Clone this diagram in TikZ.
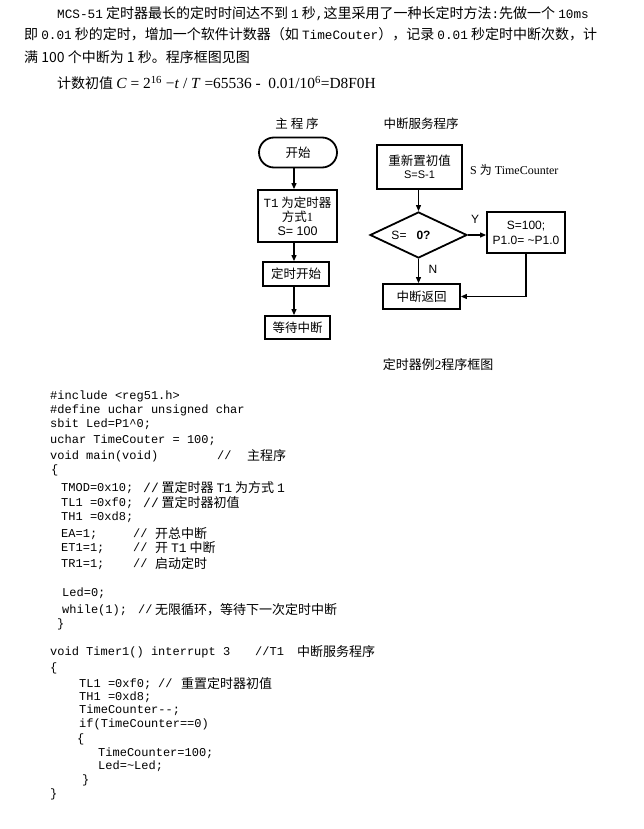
\documentclass[tikz,border=0pt]{standalone}
\usepackage{fontspec}
\setmainfont{Liberation Serif}
\setsansfont{Liberation Sans}
\setmonofont{Liberation Mono}
\newfontfamily\cjk{Noto Sans CJK SC}
\usetikzlibrary{arrows.meta,shapes.geometric}
\newcommand\pmono[1]{{\ttfamily\fontsize{12.7}{14}\selectfont #1}}
\newcommand\cmono[1]{{\ttfamily #1}}
\tikzset{
  txt/.style={inner sep=0pt, anchor=base west},
  para/.style={txt, font=\cjk\fontsize{14}{16}\selectfont},
  code/.style={txt, font=\ttfamily\fontsize{12}{14}\selectfont},
  ccn/.style={txt, font=\cjk\fontsize{13}{15}\selectfont},
  fbox/.style={draw, line width=1.8pt, inner sep=0pt, align=center, font=\cjk\fontsize{12.5}{14}\selectfont},
  ftxt/.style={inner sep=0pt, font=\cjk\fontsize{12.5}{14}\selectfont},
  lab/.style={inner sep=0pt, font=\sffamily\fontsize{12}{14}\selectfont},
  conn/.style={line width=1.1pt, -{Triangle[length=6pt,width=5pt]}}
}
\begin{document}
\begin{tikzpicture}[x=1pt,y=-1pt]
\useasboundingbox[fill=white] (0,0) rectangle (644,829);

% ---------- paragraph ----------
\node[para] (p1) at (57,19) {\pmono{MCS-51} 定时器最长的定时时间达不到 \pmono{1} 秒\pmono{,}这里采用了一种长定时方法\pmono{:}先做一个 \pmono{10ms}};
\node[para] (p2) at (24,40) {即 \pmono{0.01} 秒的定时，增加一个软件计数器（如 \pmono{TimeCouter}），记录 \pmono{0.01} 秒定时中断次数，计};
\node[para] (p3) at (24,63) {满 100 个中断为 1 秒。程序框图见图};
\node[para] (p4) at (57,89) {计数初值 {\rmfamily\fontsize{15.4}{17}\selectfont \textit{C} = 2\textsuperscript{16} \textminus\textit{t} / \textit{T} =65536 -\ \ 0.01/10\textsuperscript{6}=D8F0H}};

% ---------- flowchart: main ----------
\node[ftxt] (tmain) at (297,124) {主 程 序};
\node[fbox, rounded corners=15pt, minimum width=78pt, minimum height=30pt] (start) at (298,152.5) {开始};
\node[fbox, minimum width=79pt, minimum height=52pt] (t1) at (297.5,216) {\cmono{T1} 为定时器\\方式\textrm{1}\\{\sffamily S= 100}};
\node[fbox, minimum width=66pt, minimum height=24pt] (go) at (296,274) {定时开始};
\node[fbox, minimum width=65pt, minimum height=23pt] (wait) at (297.5,327.5) {等待中断};
\coordinate (a1) at (294,167);
\draw[conn] (start.south -| a1) -- (t1.north -| a1);
\draw[conn] (t1.south -| a1) -- (go.north -| a1);
\draw[conn] (go.south -| a1) -- (wait.north -| a1);

% ---------- flowchart: interrupt ----------
\node[ftxt] (tint) at (421,124) {中断服务程序};
\node[fbox, minimum width=85pt, minimum height=44pt] (reset) at (419.5,167) {重新置初值\\[-1pt]{\sffamily\fontsize{11}{12}\selectfont S=S-1}};
\node[inner sep=0pt, anchor=west, font=\rmfamily\fontsize{12}{14}\selectfont] (snote) at (470,170) {S {\cjk 为} TimeCounter};
\node[diamond, draw, line width=1.8pt, inner sep=0pt, minimum width=97pt, minimum height=46pt] (dia) at (418.5,235) {};
\node[lab] (dtext) at (411,235.5) {S=\ \ \ \textbf{0?}};
\node[fbox, font=\sffamily\fontsize{12}{15}\selectfont, minimum width=78pt, minimum height=41pt] (s100) at (526,232.5) {S=100;\\P1.0= \textasciitilde P1.0};
\node[fbox, minimum width=77pt, minimum height=25pt] (ret) at (421.5,296.5) {中断返回};
\node[lab] (ylab) at (475,219) {Y};
\node[lab] (nlab) at (433,269) {N};
\draw[conn] (reset.south -| dia.north) -- (dia.north);
\draw[conn] (dia.east) -- (dia.east -| s100.west);
\draw[conn] (dia.south) -- (dia.south |- ret.north);
\draw[conn] (s100.south) |- (ret.east);
\node[inner sep=0pt, font=\cjk\fontsize{13}{15}\selectfont] (cap) at (438,365) {定时器例\textrm{2}程序框图};

% ---------- code ----------
\node[code] (c1) at (50,399) {\#include <reg51.h>};
\node[code] (c2) at (50,413) {\#define uchar unsigned char};
\node[code] (c3) at (50,427) {sbit Led=P1\textasciicircum 0;};
\node[code] (c4) at (50,443) {uchar TimeCouter = 100;};
\node[code] (c5) at (50,459) {void main(void)};
\node[code] (c5a) at (217,459) {//};
\node[ccn] (c5b) at (247,460) {主程序};
\node[code] (c6) at (51,473) {\{};
\node[code] (c7) at (61,491) {TMOD=0x10;};
\node[ccn] (c7a) at (143,492) {\cmono{//} 置定时器 \cmono{T1} 为方式 \cmono{1}};
\node[code] (c8) at (61,506) {TL1 =0xf0;};
\node[ccn] (c8a) at (143,507) {\cmono{//} 置定时器初值};
\node[code] (c9) at (61,520) {TH1 =0xd8;};
\node[code] (c10) at (61,537) {EA=1;};
\node[code] (c10a) at (133,537) {//};
\node[ccn] (c10b) at (155,538) {开总中断};
\node[code] (c11) at (61,551) {ET1=1;};
\node[code] (c11a) at (133,551) {//};
\node[ccn] (c11b) at (155,552) {开 \cmono{T1} 中断};
\node[code] (c12) at (61,567) {TR1=1;};
\node[code] (c12a) at (133,567) {//};
\node[ccn] (c12b) at (155,568) {启动定时};
\node[code] (c13) at (62,596) {Led=0;};
\node[code] (c14) at (62,613) {while(1);};
\node[code] (c14a) at (138,613) {//};
\node[ccn] (c14b) at (155,614) {无限循环，等待下一次定时中断};
\node[code] (c15) at (57,627) {\}};
\node[code] (c16) at (50,655) {void Timer1() interrupt 3};
\node[code] (c16a) at (255,655) {//T1};
\node[ccn] (c16b) at (297,656) {中断服务程序};
\node[code] (c17) at (50,671) {\{};
\node[code] (c18) at (79,687) {TL1 =0xf0;};
\node[code] (c18a) at (158,687) {//};
\node[ccn] (c18b) at (181,688) {重置定时器初值};
\node[code] (c19) at (79,700) {TH1 =0xd8;};
\node[code] (c20) at (79,713) {TimeCounter--;};
\node[code] (c21) at (79,727) {if(TimeCounter==0)};
\node[code] (c22) at (77,742) {\{};
\node[code] (c23) at (98,756) {TimeCounter=100;};
\node[code] (c24) at (98,769) {Led=\textasciitilde Led;};
\node[code] (c25) at (82,783) {\}};
\node[code] (c26) at (50,797) {\}};
\end{tikzpicture}
\end{document}
